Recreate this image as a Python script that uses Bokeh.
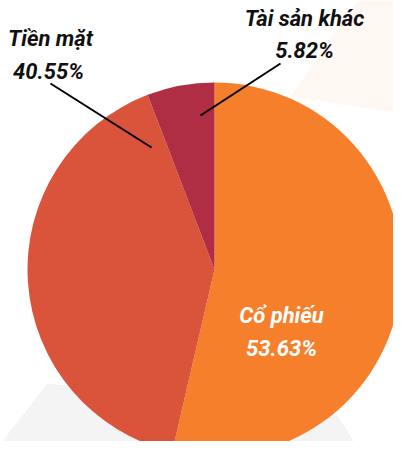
import numpy as np
from bokeh.plotting import figure
from bokeh.models import Range1d
from bokeh.core.properties import value
from bokeh.embed import file_html
from bokeh.resources import INLINE

# ---- data ----
categories = ["Cổ phiếu", "Tiền mặt", "Tài sản khác"]
shares = [53.63, 40.55, 5.82]
colors = ["#F57F2B", "#D9543A", "#B02E44"]

W, H = 393, 441

p = figure(width=W, height=H, output_backend="svg", toolbar_location=None,
           x_range=Range1d(0, W), y_range=Range1d(-H, 0),
           min_border=0, outline_line_color=None, background_fill_color="white",
           border_fill_color="white")
p.axis.visible = False
p.grid.visible = False

# faint decorative background shapes
p.patch([47, 0, 0, 372, 337], [-383, -443, -470, -470, -415], color="#F4F4F4", line_color=None)
p.patch([357, 410, 410, 290], [0, 0, -114, -96], color="#FEF7F2", line_color=None)

# pie
cx, cy, r = 214, -269, 187
frac = np.array(shares) / sum(shares)
ends = np.pi / 2 - np.cumsum(frac) * 2 * np.pi
starts = np.concatenate([[np.pi / 2], ends[:-1]])
p.wedge(x=[cx] * 3, y=[cy] * 3, radius=r, start_angle=list(starts), end_angle=list(ends),
        direction="clock", fill_color=colors, line_color=None)

# leader lines
p.line([50, 151], [-83, -147], line_color="black", line_width=2)
p.line([280, 200], [-63, -115], line_color="black", line_width=2)

font = value("Roboto")
def lab(x, y, t, col):
    p.text(x=[x], y=[y + 7], text=[t], text_font=font, text_font_size="22px",
           text_font_style="bold italic", text_color=col, text_align="center",
           text_baseline="alphabetic")

lab(50, -45, categories[1], "#111111")
lab(48, -78, f"{shares[1]:.2f}%", "#111111")
lab(304, -25, categories[2], "#111111")
lab(304, -57, f"{shares[2]:.2f}%", "#111111")
lab(281, -322, categories[0], "white")
lab(281, -355, f"{shares[0]:.2f}%", "white")

open("out.html", "w").write(file_html(p, INLINE))
